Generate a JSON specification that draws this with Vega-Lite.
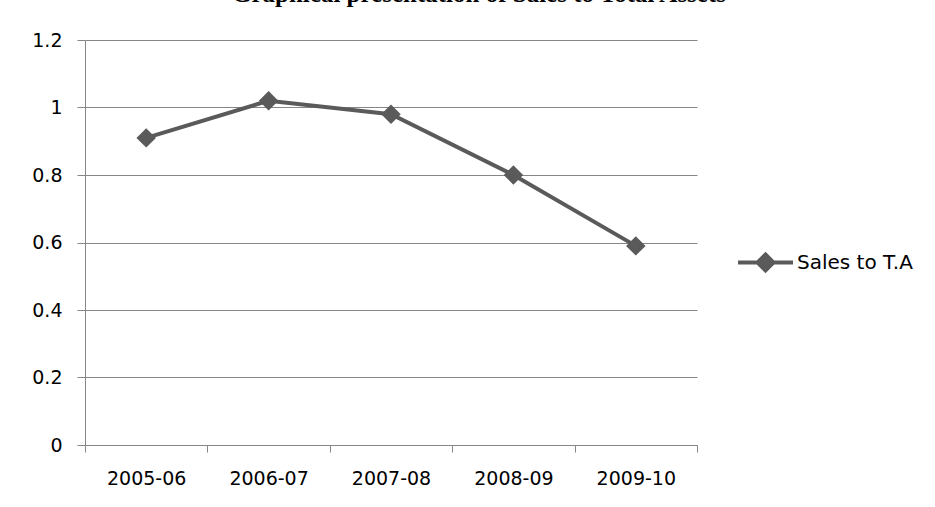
{
  "$schema": "https://vega.github.io/schema/vega-lite/v6.json",
  "autosize": "none",
  "width": 612,
  "height": 405,
  "padding": {"left": 85, "top": 40, "right": 238, "bottom": 62},
  "background": "white",
  "title": {
    "text": "Graphical presentation of Sales to Total Assets",
    "font": "Liberation Serif",
    "fontSize": 25,
    "fontWeight": "bold",
    "color": "#000000",
    "frame": "group",
    "anchor": "middle",
    "baseline": "alphabetic",
    "offset": 4,
    "dx": 88
  },
  "data": {
    "values": [
      {"year": "2005-06", "value": 0.91, "series": "Sales to T.A"},
      {"year": "2006-07", "value": 1.02, "series": "Sales to T.A"},
      {"year": "2007-08", "value": 0.98, "series": "Sales to T.A"},
      {"year": "2008-09", "value": 0.80, "series": "Sales to T.A"},
      {"year": "2009-10", "value": 0.59, "series": "Sales to T.A"}
    ]
  },
  "mark": {
    "type": "line",
    "strokeWidth": 4,
    "point": {"shape": "diamond", "size": 380, "filled": true, "opacity": 1}
  },
  "encoding": {
    "x": {
      "field": "year",
      "type": "ordinal",
      "scale": {"type": "band", "paddingInner": 0, "paddingOuter": 0},
      "axis": {
        "title": null,
        "labelAngle": 0,
        "labelFont": "DejaVu Sans",
        "labelFontSize": 19,
        "labelColor": "#000000",
        "labelPadding": 17,
        "tickBand": "extent",
        "tickSize": 7,
        "tickColor": "#868686",
        "domainColor": "#868686",
        "grid": false
      }
    },
    "y": {
      "field": "value",
      "type": "quantitative",
      "scale": {"domain": [0, 1.2], "nice": false},
      "axis": {
        "title": null,
        "values": [0, 0.2, 0.4, 0.6, 0.8, 1, 1.2],
        "format": "~g",
        "labelFont": "DejaVu Sans",
        "labelFontSize": 19,
        "labelColor": "#000000",
        "labelPadding": 15,
        "tickSize": 8,
        "tickColor": "#868686",
        "domainColor": "#868686",
        "gridColor": "#868686",
        "gridOpacity": 1
      }
    },
    "color": {
      "field": "series",
      "type": "nominal",
      "scale": {"range": ["#5a5a5a"]},
      "legend": {
        "title": null,
        "orient": "none",
        "legendX": 651,
        "legendY": 193,
        "symbolType": "M-1,0L1,0M0,-0.29L0.29,0L0,0.29L-0.29,0Z",
        "symbolSize": 3025,
        "symbolStrokeWidth": 4,
        "symbolFillColor": "#5a5a5a",
        "symbolStrokeColor": "#5a5a5a",
        "labelFont": "DejaVu Sans",
        "labelFontSize": 20,
        "labelColor": "#000000",
        "labelOffset": 2
      }
    }
  },
  "config": {
    "view": {"stroke": null},
    "axis": {"domainWidth": 1, "tickWidth": 1, "gridWidth": 1}
  }
}
